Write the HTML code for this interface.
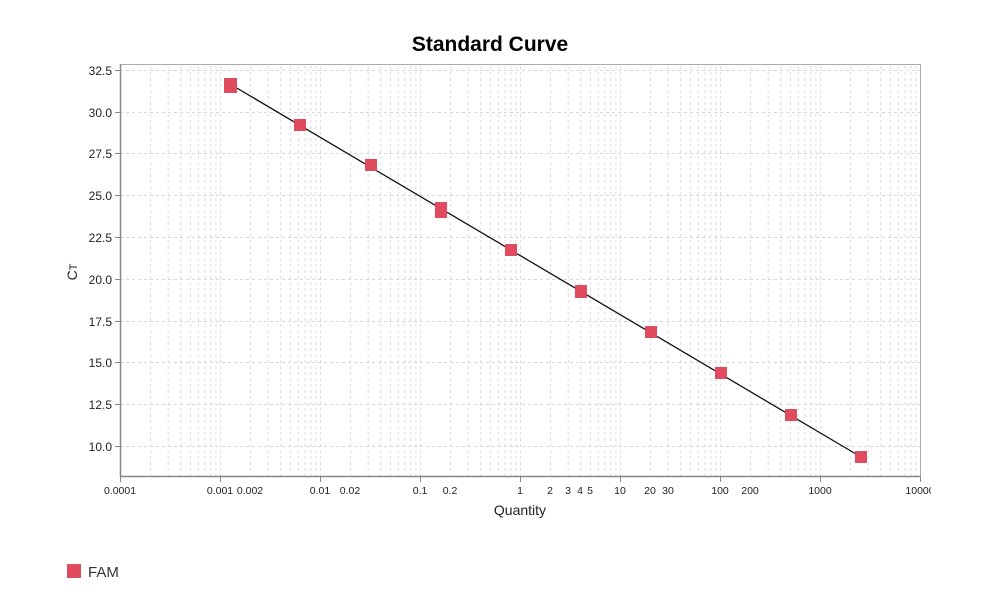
<!DOCTYPE html>
<html><head><meta charset="utf-8"><style>
html,body{margin:0;padding:0;background:#fff;}
svg{display:block;font-family:"Liberation Sans",Arial,sans-serif;}
</style></head><body>
<svg width="981" height="613" viewBox="0 0 981 613">
<defs>
<pattern id="g" x="120" y="0" width="100" height="613" patternUnits="userSpaceOnUse">
<g stroke="#dcdcdc" stroke-width="1" stroke-dasharray="3,3">
<line x1="0.5" y1="0" x2="0.5" y2="613"/>
<line x1="30.6" y1="0" x2="30.6" y2="613"/>
<line x1="48.2" y1="0" x2="48.2" y2="613"/>
<line x1="60.7" y1="0" x2="60.7" y2="613"/>
<line x1="70.4" y1="0" x2="70.4" y2="613"/>
<line x1="78.3" y1="0" x2="78.3" y2="613"/>
<line x1="85" y1="0" x2="85" y2="613"/>
<line x1="90.8" y1="0" x2="90.8" y2="613"/>
<line x1="95.9" y1="0" x2="95.9" y2="613"/>
</g>
</pattern>
</defs>
<text x="490" y="51" text-anchor="middle" font-size="21" font-weight="bold" fill="#000">Standard Curve</text>
<rect x="120" y="64" width="801" height="413" fill="url(#g)"/>
<g stroke="#d6d6d6" stroke-dasharray="3,3">
<line x1="120" y1="70.5" x2="921" y2="70.5"/>
<line x1="120" y1="112.5" x2="921" y2="112.5"/>
<line x1="120" y1="153.5" x2="921" y2="153.5"/>
<line x1="120" y1="195.5" x2="921" y2="195.5"/>
<line x1="120" y1="237.5" x2="921" y2="237.5"/>
<line x1="120" y1="279.5" x2="921" y2="279.5"/>
<line x1="120" y1="321.5" x2="921" y2="321.5"/>
<line x1="120" y1="362.5" x2="921" y2="362.5"/>
<line x1="120" y1="404.5" x2="921" y2="404.5"/>
<line x1="120" y1="446.5" x2="921" y2="446.5"/>
</g>
<rect x="120.5" y="64.5" width="800" height="412" fill="none" stroke="#aaa" stroke-width="1"/>
<line x1="120.5" y1="64" x2="120.5" y2="477" stroke="#888" stroke-width="1.5"/>
<line x1="120" y1="476.5" x2="921" y2="476.5" stroke="#888" stroke-width="1.5"/>
<g stroke="#888">
<line x1="115" y1="70.5" x2="120" y2="70.5"/><line x1="115" y1="112.5" x2="120" y2="112.5"/>
<line x1="115" y1="153.5" x2="120" y2="153.5"/><line x1="115" y1="195.5" x2="120" y2="195.5"/>
<line x1="115" y1="237.5" x2="120" y2="237.5"/><line x1="115" y1="279.5" x2="120" y2="279.5"/>
<line x1="115" y1="321.5" x2="120" y2="321.5"/><line x1="115" y1="362.5" x2="120" y2="362.5"/>
<line x1="115" y1="404.5" x2="120" y2="404.5"/><line x1="115" y1="446.5" x2="120" y2="446.5"/>
<line x1="120.5" y1="477" x2="120.5" y2="482"/><line x1="220.5" y1="477" x2="220.5" y2="482"/>
<line x1="320.5" y1="477" x2="320.5" y2="482"/><line x1="420.5" y1="477" x2="420.5" y2="482"/>
<line x1="520.5" y1="477" x2="520.5" y2="482"/><line x1="620.5" y1="477" x2="620.5" y2="482"/>
<line x1="720.5" y1="477" x2="720.5" y2="482"/><line x1="820.5" y1="477" x2="820.5" y2="482"/>
<line x1="920.5" y1="477" x2="920.5" y2="482"/>
</g>
<g font-size="12" fill="#222" text-anchor="end">
<text x="112" y="75">32.5</text><text x="112" y="117">30.0</text><text x="112" y="158">27.5</text>
<text x="112" y="200">25.0</text><text x="112" y="242">22.5</text><text x="112" y="284">20.0</text>
<text x="112" y="326">17.5</text><text x="112" y="367">15.0</text><text x="112" y="409">12.5</text>
<text x="112" y="451">10.0</text>
</g>
<g font-size="10.5" fill="#222" text-anchor="middle">
<text x="120" y="494">0.0001</text><text x="220" y="494">0.001</text><text x="250" y="494">0.002</text>
<text x="320" y="494">0.01</text><text x="350" y="494">0.02</text><text x="420" y="494">0.1</text>
<text x="450" y="494">0.2</text><text x="520" y="494">1</text><text x="550" y="494">2</text>
<text x="568" y="494">3</text><text x="580" y="494">4</text><text x="590" y="494">5</text>
<text x="620" y="494">10</text><text x="650" y="494">20</text><text x="668" y="494">30</text>
<text x="720" y="494">100</text><text x="750" y="494">200</text><text x="820" y="494">1000</text>
<text x="920" y="494">10000</text>
</g>
<rect x="931" y="484" width="50" height="14" fill="#fff"/>
<text x="520" y="515" text-anchor="middle" font-size="14" fill="#222">Quantity</text>
<text transform="translate(77,272) rotate(-90)" text-anchor="middle" font-size="14" fill="#222">C<tspan font-size="11">T</tspan></text>
<line x1="230" y1="84" x2="861" y2="457" stroke="#111" stroke-width="1.3"/>
<g fill="#e04b5f">
<rect x="224" y="78" width="13" height="15"/>
<rect x="294" y="119" width="12" height="12"/>
<rect x="365" y="159" width="12" height="12"/>
<rect x="435" y="202" width="12" height="16"/>
<rect x="505" y="244" width="12" height="12"/>
<rect x="575" y="285" width="12" height="13"/>
<rect x="645" y="326" width="12" height="12"/>
<rect x="715" y="367" width="12" height="12"/>
<rect x="785" y="409" width="12" height="12"/>
<rect x="855" y="451" width="12" height="12"/>
<rect x="67" y="564" width="14" height="14"/>
</g>
<text x="88" y="577" font-size="15" fill="#333">FAM</text>
</svg>
</body></html>
